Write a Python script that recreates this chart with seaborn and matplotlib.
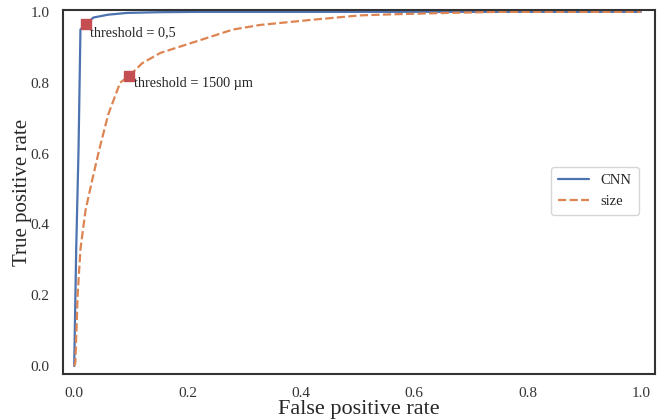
import numpy as np
import pandas as pd
import matplotlib
matplotlib.use("Agg")
import matplotlib.pyplot as plt
import seaborn as sns

# ROC curve points
cnn_fpr = [0.0, 0.0035, 0.0076, 0.011, 0.016, 0.021, 0.034, 0.06, 0.093, 0.15, 0.22, 1.0]
cnn_tpr = [0.0, 0.33, 0.61, 0.95, 0.958, 0.966, 0.984, 0.992, 0.997, 0.999, 1.0, 1.0]
size_fpr = [0.0, 0.002, 0.006, 0.011, 0.02, 0.031, 0.044, 0.06, 0.081, 0.0975, 0.12, 0.152,
            0.222, 0.28, 0.328, 0.416, 0.504, 0.56, 0.66, 0.75, 1.0]
size_tpr = [0.0, 0.01, 0.2, 0.33, 0.44, 0.52, 0.61, 0.71, 0.80, 0.82, 0.855, 0.884,
            0.92, 0.95, 0.963, 0.977, 0.99, 0.993, 0.997, 1.0, 1.0]
thr_points_fpr = [0.021, 0.0975]
thr_points_tpr = [0.966, 0.82]
thr_labels = ["threshold = 0,5", "threshold = 1500 µm"]

sns.set_theme(style="white")
plt.rcParams['font.family'] = ['Liberation Serif', 'DejaVu Serif']

df = pd.concat([
    pd.DataFrame({"fpr": cnn_fpr, "tpr": cnn_tpr, "model": "CNN"}),
    pd.DataFrame({"fpr": size_fpr, "tpr": size_tpr, "model": "size"}),
], ignore_index=True)

fig, ax = plt.subplots(figsize=(6.69, 4.2), dpi=100)
fig.subplots_adjust(left=0.094, right=0.979, top=0.976, bottom=0.110)

pal = sns.color_palette("deep")
sns.lineplot(data=df, x="fpr", y="tpr", hue="model", style="model",
             palette=[pal[0], pal[1]], dashes=[(None, None), (3.7, 1.5)],
             linewidth=1.6, sort=False, estimator=None, ax=ax)

ax.plot(thr_points_fpr, thr_points_tpr, 's', color=pal[3], markersize=7, zorder=5)
for fx, ty, lab in zip(thr_points_fpr, thr_points_tpr, thr_labels):
    ax.annotate(lab, (fx, ty), xytext=(3, -6), textcoords="offset points",
                ha="left", va="center", fontsize=10.3)

ax.set_xlim(-0.02, 1.025)
ax.set_ylim(-0.022, 1.005)
ax.set_xticks([0.0, 0.2, 0.4, 0.6, 0.8, 1.0])
ax.set_yticks([0.0, 0.2, 0.4, 0.6, 0.8, 1.0])
ax.tick_params(labelsize=11, colors="#333333")
ax.set_xlabel("False positive rate", fontsize=16, labelpad=0)
ax.set_ylabel("True positive rate", fontsize=15, labelpad=-1)
for s in ax.spines.values():
    s.set_color("#333333")
    s.set_linewidth(1.5)

leg = ax.legend(loc="center right", fontsize=10.5, title=None, frameon=True,
                bbox_to_anchor=(0.985, 0.503), handlelength=2.1, handletextpad=0.8,
                borderpad=0.5)

fig.savefig("out.png", dpi=100)
